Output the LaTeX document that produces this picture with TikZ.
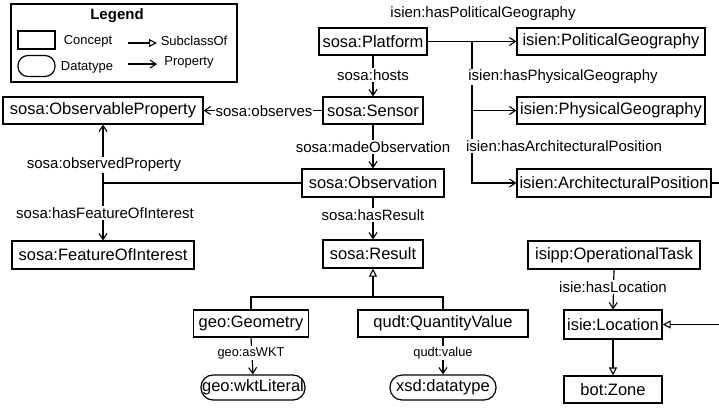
\documentclass[tikz,border=0pt]{standalone}
\usepackage{fontspec}
\setmainfont{Liberation Sans}
\usetikzlibrary{arrows.meta}
\begin{document}
\begin{tikzpicture}[x=1pt,y=-1pt,
  line width=1.2pt,
  concept/.style={draw, rectangle, inner sep=0pt, font=\fontsize{16.5}{18}\selectfont},
  datatype/.style={draw, rectangle, rounded corners=12pt, inner sep=0pt, minimum height=25pt, font=\fontsize{16.5}{18}\selectfont},
  elabel/.style={fill=white, inner sep=1.5pt, font=\fontsize{15}{17}\selectfont},
  slabel/.style={fill=white, inner sep=1pt, font=\fontsize{12.8}{14}\selectfont},
  ltext/.style={inner sep=0pt, font=\fontsize{13}{15}\selectfont},
  prop/.style={-{Straight Barb[length=6pt,width=8pt,line width=1.1pt]}},
  sub/.style={-{Triangle[open,length=8pt,width=8pt,line width=1.1pt]}}]
\clip (0,0) rectangle (719,408);

% legend
\node[draw, rectangle, minimum width=226pt, minimum height=78pt, inner sep=0pt] (legend) at (124,43) {};
\node[inner sep=0pt, font=\bfseries\fontsize{15}{17}\selectfont] (legtitle) at (117,16) {Legend};
\node[draw, rectangle, minimum width=37pt, minimum height=18pt, inner sep=0pt] (legconcept) at (36.5,40) {};
\node[draw, rectangle, rounded corners=10pt, minimum width=37pt, minimum height=21pt, inner sep=0pt] (legdatatype) at (36.5,66) {};
\node[ltext] (legconcepttext) at (88,41) {Concept};
\node[ltext] (legdatatypetext) at (87,67) {Datatype};
\node[ltext] (legsubtext) at (194,41) {SubclassOf};
\node[ltext] (legproptext) at (189,62) {Property};
\coordinate (ls1) at (128,43);
\coordinate (ls2) at (157,43);
\coordinate (lp1) at (128,64);
\coordinate (lp2) at (157,64);
\draw[sub] (ls1) -- (ls2);
\draw[prop] (lp1) -- (lp2);

% concepts
\node[concept, minimum width=108pt, minimum height=27pt] (platform) at (373,41.5) {sosa:Platform};
\node[concept, minimum width=188pt, minimum height=27pt] (polgeo) at (611,41.5) {isien:PoliticalGeography};
\node[concept, minimum width=188pt, minimum height=27pt] (physgeo) at (611,110.5) {isien:PhysicalGeography};
\node[concept, minimum width=194pt, minimum height=28pt] (archpos) at (614,183) {isien:ArchitecturalPosition};
\node[concept, minimum width=100pt, minimum height=27pt] (sensor) at (373,110.5) {sosa:Sensor};
\node[concept, minimum width=200pt, minimum height=27pt] (obsprop) at (103,110.5) {sosa:ObservableProperty};
\node[concept, minimum width=142pt, minimum height=28pt] (obs) at (373,183) {sosa:Observation};
\node[concept, minimum width=182pt, minimum height=28pt] (foi) at (103,255) {sosa:FeatureOfInterest};
\node[concept, minimum width=100pt, minimum height=28pt] (result) at (373,254) {sosa:Result};
\node[concept, minimum width=115pt, minimum height=27pt] (geometry) at (251,323.5) {geo:Geometry};
\node[concept, minimum width=170pt, minimum height=27pt] (qv) at (443,323.5) {qudt:QuantityValue};
\node[datatype, minimum width=104pt] (wkt) at (253,387.5) {geo:wktLiteral};
\node[datatype, minimum width=106pt] (xsd) at (443,387.5) {xsd:datatype};
\node[concept, minimum width=172pt, minimum height=28pt] (optask) at (614,255) {isipp:OperationalTask};
\node[concept, minimum width=98pt, minimum height=29pt] (location) at (613,324.5) {isie:Location};
\node[concept, minimum width=98pt, minimum height=27pt] (zone) at (613,389.5) {bot:Zone};

% junctions
\coordinate (jplat) at (472,41.5);
\coordinate (jobs) at (103,183);
\coordinate (jsub) at (373,297);
\coordinate (edge1) at (730,183);
\coordinate (edge2) at (730,324.5);

% properties
\draw[prop] (platform.east) -- (polgeo.west);
\draw[prop] (jplat) |- (physgeo.west);
\draw[prop] (jplat) |- (archpos.west);
\draw[prop] (platform.south) -- (sensor.north);
\draw[prop] (sensor.west) -- (obsprop.east);
\draw[prop] (sensor.south) -- (obs.north);
\draw (obs.west) -- (jobs);
\draw[prop] (jobs) -- (obsprop.south);
\draw[prop] (jobs) -- (foi.north);
\draw[prop] (obs.south) -- (result.north);
\draw[prop] (geometry.south) -- (wkt.north);
\draw[prop] (qv.south) -- (xsd.north);
\draw[prop] (optask.south) -- (location.north);

% subclass relations
\draw (geometry.north) |- (jsub) -| (qv.north);
\draw[sub] (jsub) -- (result.south);
\draw[sub] (location.south) -- (zone.north);
\draw (archpos.east) -- (edge1) -- (edge2);
\draw[sub] (edge2) -- (location.east);

% property labels
\node[elabel] (lpol) at (483,14) {isien:hasPoliticalGeography};
\node[elabel] (lhosts) at (373,75) {sosa:hosts};
\node[elabel] (lphys) at (563,77) {isien:hasPhysicalGeography};
\node[elabel, inner xsep=0.5pt] (lobserves) at (264,111) {sosa:observes};
\node[elabel] (larch) at (564,146) {isien:hasArchitecturalPosition};
\node[elabel] (lmade) at (373,147) {sosa:madeObservation};
\node[elabel] (lobsprop) at (104,165) {sosa:observedProperty};
\node[elabel] (lfoi) at (105,213) {sosa:hasFeatureOfInterest};
\node[elabel] (lresult) at (373,215) {sosa:hasResult};
\node[slabel] (lwkt) at (251,353) {geo:asWKT};
\node[slabel] (lvalue) at (443,353) {qudt:value};
\node[elabel] (lloc) at (613,287) {isie:hasLocation};
\end{tikzpicture}
\end{document}
